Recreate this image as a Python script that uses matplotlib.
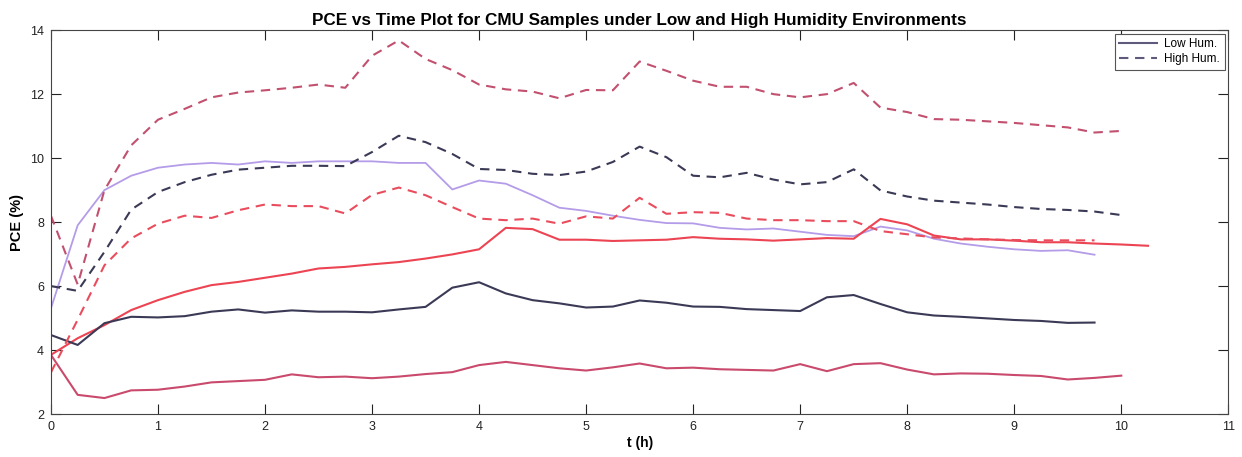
import matplotlib
matplotlib.use("Agg")
import matplotlib.pyplot as plt
from matplotlib.lines import Line2D

plt.rcParams['font.family'] = ['Liberation Sans', 'DejaVu Sans']

# time axis (h)
t = [0, 0.25, 0.5, 0.75, 1, 1.25, 1.5, 1.75, 2, 2.25, 2.5, 2.75, 3, 3.25, 3.5, 3.75,
     4, 4.25, 4.5, 4.75, 5, 5.25, 5.5, 5.75, 6, 6.25, 6.5, 6.75, 7, 7.25, 7.5, 7.75,
     8, 8.25, 8.5, 8.75, 9, 9.25, 9.5, 9.75, 10, 10.25]

# Low humidity (solid)
low_lavender = [5.3, 7.9, 9.0, 9.45, 9.7, 9.8, 9.85, 9.8, 9.9, 9.85, 9.9, 9.9, 9.9, 9.85, 9.85, 9.02,
                9.3, 9.2, 8.84, 8.45, 8.35, 8.2, 8.07, 7.97, 7.96, 7.82, 7.77, 7.8, 7.7, 7.6, 7.56, 7.86,
                7.74, 7.48, 7.33, 7.23, 7.15, 7.1, 7.12, 6.98]
low_red = [3.85, 4.37, 4.78, 5.25, 5.56, 5.82, 6.03, 6.13, 6.26, 6.39, 6.55, 6.6, 6.68, 6.75, 6.86, 6.99,
           7.15, 7.82, 7.78, 7.45, 7.45, 7.41, 7.43, 7.45, 7.53, 7.48, 7.46, 7.42, 7.46, 7.5, 7.48, 8.1,
           7.93, 7.58, 7.46, 7.46, 7.42, 7.37, 7.37, 7.33, 7.3, 7.26]
low_navy = [4.47, 4.16, 4.84, 5.04, 5.02, 5.06, 5.2, 5.27, 5.17, 5.24, 5.2, 5.2, 5.18, 5.27, 5.35, 5.95,
            6.12, 5.77, 5.56, 5.46, 5.33, 5.36, 5.55, 5.48, 5.36, 5.35, 5.28, 5.25, 5.22, 5.65, 5.72, 5.44,
            5.18, 5.08, 5.04, 4.99, 4.94, 4.91, 4.85, 4.86]
low_rose = [3.85, 2.6, 2.5, 2.74, 2.76, 2.86, 2.99, 3.03, 3.07, 3.24, 3.15, 3.17, 3.12, 3.17, 3.25, 3.31,
            3.53, 3.63, 3.53, 3.43, 3.36, 3.46, 3.58, 3.43, 3.45, 3.4, 3.38, 3.36, 3.56, 3.34, 3.56, 3.59,
            3.39, 3.24, 3.27, 3.26, 3.22, 3.19, 3.08, 3.13, 3.2]

# High humidity (dashed)
high_rose = [8.2, 6.05, 9.0, 10.4, 11.2, 11.54, 11.9, 12.05, 12.12, 12.2, 12.3, 12.2, 13.2, 13.68, 13.1, 12.75,
             12.3, 12.15, 12.08, 11.87, 12.13, 12.12, 13.02, 12.73, 12.42, 12.23, 12.23, 12.0, 11.9, 12.0, 12.35,
             11.58, 11.44, 11.22, 11.2, 11.15, 11.1, 11.03, 10.96, 10.8, 10.85]
high_navy = [6.0, 5.85, 7.07, 8.39, 8.94, 9.25, 9.48, 9.64, 9.7, 9.76, 9.76, 9.75, 10.19, 10.7, 10.5, 10.13,
             9.66, 9.63, 9.51, 9.47, 9.58, 9.88, 10.36, 10.03, 9.45, 9.4, 9.54, 9.33, 9.18, 9.25, 9.65,
             8.99, 8.8, 8.67, 8.61, 8.55, 8.47, 8.41, 8.38, 8.33, 8.22]
high_red = [3.3, 4.95, 6.65, 7.49, 7.95, 8.2, 8.13, 8.37, 8.55, 8.5, 8.5, 8.27, 8.85, 9.08, 8.84, 8.47,
            8.11, 8.06, 8.11, 7.95, 8.18, 8.11, 8.76, 8.26, 8.31, 8.29, 8.11, 8.06, 8.06, 8.03, 8.03,
            7.72, 7.62, 7.52, 7.49, 7.46, 7.44, 7.43, 7.43, 7.43]

title = "PCE vs Time Plot for CMU Samples under Low and High Humidity Environments"
legend_labels = ["Low Hum.", "High Hum."]

C_LAV = "#b49ce8"
C_RED = "#ec4452"
C_NAVY = "#3b3a56"
C_ROSE = "#c94a6c"
C_ROSE_D = "#c2506f"
C_RED_D = "#e94d5d"

fig = plt.figure(figsize=(12.42, 4.57), dpi=100)
ax = fig.add_axes([0.041, 0.094, 0.948, 0.84])

lw = 1.5
dash = (4.5, 3.2)

ax.plot(t[:len(low_lavender)], low_lavender, color=C_LAV, lw=1.3)
ax.plot(t[:len(low_red)], low_red, color=C_RED, lw=lw)
ax.plot(t[:len(low_navy)], low_navy, color=C_NAVY, lw=lw)
ax.plot(t[:len(low_rose)], low_rose, color=C_ROSE, lw=lw)
ax.plot(t[:len(high_rose)], high_rose, color=C_ROSE_D, lw=lw, dashes=dash)
ax.plot(t[:len(high_navy)], high_navy, color=C_NAVY, lw=lw, dashes=dash)
ax.plot(t[:len(high_red)], high_red, color=C_RED_D, lw=lw, dashes=dash)

ax.set_xlim(0, 11)
ax.set_ylim(2, 14)
ax.set_xticks(range(0, 12))
ax.set_yticks(range(2, 15, 2))
ax.tick_params(direction='in', length=7, width=0.8, top=True, right=True,
               labelsize=9, colors='#222222', pad=5)
for s in ax.spines.values():
    s.set_linewidth(0.8)
    s.set_color('#444444')

ax.set_title(title, fontsize=12.3, fontweight='bold', pad=4)
ax.set_xlabel("t (h)", fontsize=10, fontweight='bold', labelpad=2)
ax.set_ylabel("PCE (%)", fontsize=10.5, fontweight='bold', labelpad=4)

handles = [Line2D([], [], color="#5e5a7c", lw=1.5),
           Line2D([], [], color="#5e5a7c", lw=1.5, dashes=dash)]
leg = ax.legend(handles, legend_labels, loc='upper right', fontsize=8.5, fancybox=False,
                framealpha=1, edgecolor='#555555', handlelength=3.2, borderpad=0.4,
                labelspacing=0.2, borderaxespad=0.3, handletextpad=0.6)
leg.get_frame().set_linewidth(0.8)

fig.savefig("out.png", dpi=100)
